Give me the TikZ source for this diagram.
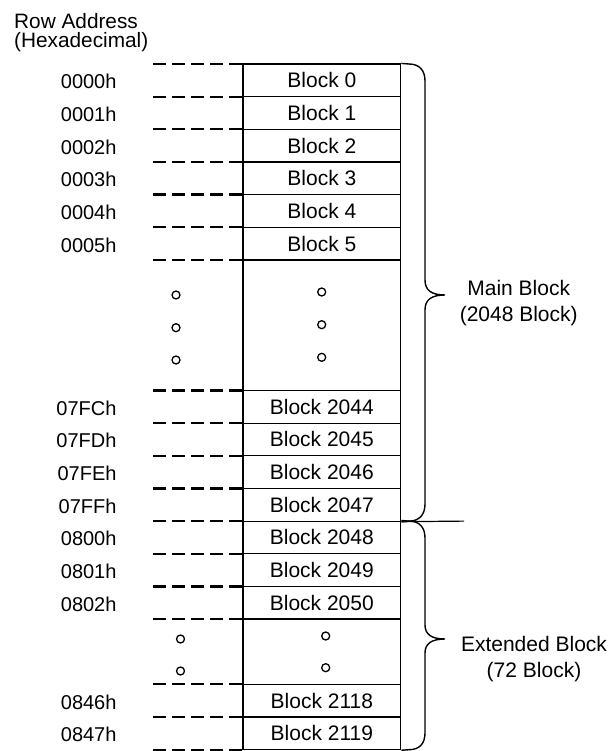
\documentclass[tikz,border=0pt]{standalone}
\usepackage{fontspec}
\setmainfont{Liberation Sans}
\begin{document}
\begin{tikzpicture}[x=1pt,y=-1pt,
  blk/.style={draw, line width=1.2pt, minimum width=157.7pt, minimum height=32.65pt, inner sep=0pt, font=\fontsize{21}{25}\selectfont},
  addr/.style={anchor=base east, inner sep=0pt, font=\fontsize{20}{24}\selectfont},
  dotc/.style={circle, draw, line width=1.3pt, minimum size=8pt, inner sep=0pt},
  dsh/.style={line width=2.2pt, dash pattern=on 13pt off 6pt},
  brc/.style={line width=1.4pt},
  lbl/.style={anchor=base, inner sep=0pt, font=\fontsize{21}{25}\selectfont}]
\useasboundingbox (0,0) rectangle (613,751);
% title
\node[anchor=base west, inner sep=0pt, font=\fontsize{20.8}{24}\selectfont] (rt1) at (14,28.3) {Row Address};
\node[anchor=base west, inner sep=0pt, font=\fontsize{20.8}{24}\selectfont] (rt2) at (14,47.7) {(Hexadecimal)};
% dashed leader lines
\foreach \i in {0,1,2,3,4,5,6,10,11,12,13,14,15,16,17,19,20,21}
  \draw[dsh] (153.3,{64+\i*32.65}) -- (243,{64+\i*32.65});
% blocks and addresses
\foreach \i/\t/\a in {0/0/0000h,1/1/0001h,2/2/0002h,3/3/0003h,4/4/0004h,5/5/0005h,10/2044/07FCh,11/2045/07FDh,12/2046/07FEh,13/2047/07FFh,14/2048/0800h,15/2049/0801h,16/2050/0802h,19/2118/0846h,20/2119/0847h}{
  \node[blk] (b\i) at (321.85,{64+(\i+0.5)*32.65}) {Block \t};
  \node[addr] (a\i) at (116.7,{64+(\i+0.5)*32.65+8.5}) {\a};
}
\node[blk, minimum height=130.6pt] (gap1) at (321.85,325.2) {};
\node[blk, minimum height=65.3pt] (gap2) at (321.85,651.7) {};
% dots
\node[dotc] (l1) at (176,295) {};
\node[dotc] (l2) at (176,327.7) {};
\node[dotc] (l3) at (176,360) {};
\node[dotc] (c1) at (321.7,292) {};
\node[dotc] (c2) at (321.7,324.7) {};
\node[dotc] (c3) at (321.7,357.3) {};
\node[dotc] (l4) at (180.5,639) {};
\node[dotc] (l5) at (180.5,671) {};
\node[dotc] (c4) at (325.7,636) {};
\node[dotc] (c5) at (325.7,667.7) {};
% braces
\draw[brc] (b0.north east) -- (409,64) .. controls (419,64) and (425,70) .. (425,81)
  -- (425,280) .. controls (425,290) and (431,295) .. (445,295)
  .. controls (431,295) and (425,300) .. (425,310)
  -- (425,504) .. controls (425,515) and (419,521.1) .. (409,521.1) -- (b13.south east);
\draw[brc] (b14.north east) -- (409,521.1) .. controls (419,521.1) and (425,527) .. (425,538)
  -- (425,625) .. controls (425,634) and (431,639) .. (445,639)
  .. controls (431,639) and (425,644) .. (425,653)
  -- (425,733) .. controls (425,744) and (419,749.7) .. (409,749.7) -- (b20.south east);
\coordinate (hl) at (464,521.1);
\draw[line width=1.2pt] (b13.south east) -- (hl);
% labels
\node[lbl] (m1) at (518.7,295) {Main Block};
\node[lbl] (m2) at (518.7,321.7) {(2048 Block)};
\node[lbl] (e1) at (534,651) {Extended Block};
\node[lbl] (e2) at (534,677.7) {(72 Block)};
\end{tikzpicture}
\end{document}
